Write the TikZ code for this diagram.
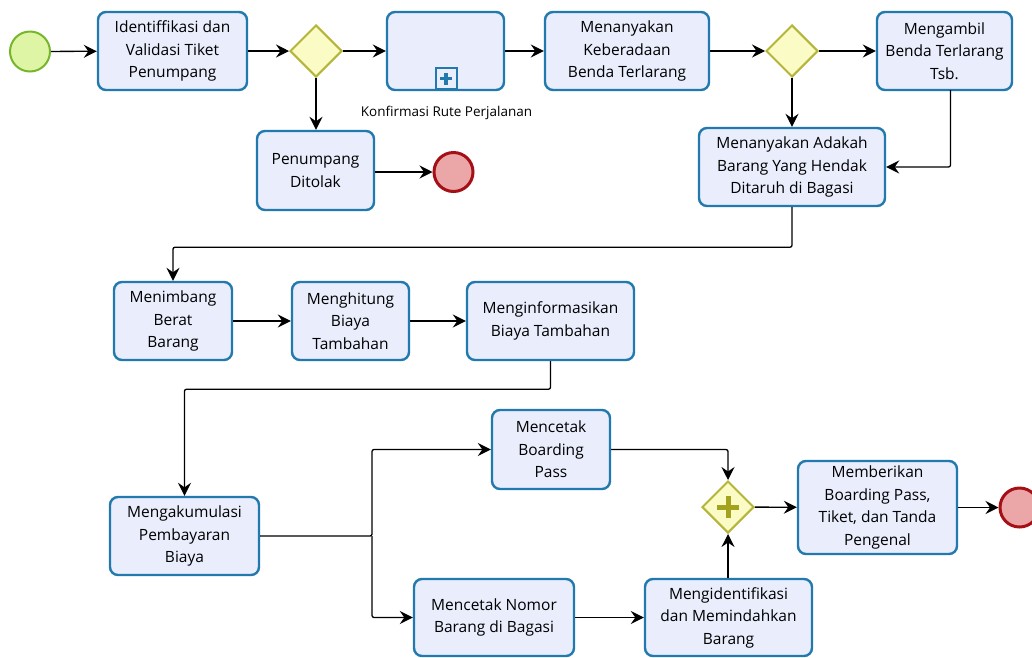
\documentclass[tikz,border=0pt]{standalone}
\usepackage{fontspec}
\setmainfont{Open Sans}
\usetikzlibrary{arrows.meta,shapes.geometric}
\definecolor{taskfill}{HTML}{E9EDFC}
\definecolor{taskline}{HTML}{2179AD}
\definecolor{gatefill}{HTML}{FBFBC6}
\definecolor{gateline}{HTML}{B5B53A}
\definecolor{gatemark}{HTML}{A3A31E}
\definecolor{startfill}{HTML}{DFF5A6}
\definecolor{startline}{HTML}{77B62A}
\definecolor{endfill}{HTML}{EBA6A7}
\definecolor{endline}{HTML}{A50F16}
\begin{document}
\begin{tikzpicture}[x=1pt,y=-1pt,
  task/.style={draw=taskline, fill=taskfill, line width=2.4pt, rounded corners=8pt,
    align=center, inner sep=0pt, font=\fontsize{15.5}{22.5}\selectfont},
  gate/.style={diamond, draw=gateline, fill=gatefill, line width=2pt,
    minimum width=52pt, minimum height=52pt, inner sep=0pt},
  startev/.style={circle, draw=startline, fill=startfill, line width=2pt,
    minimum size=40pt, inner sep=0pt},
  endev/.style={circle, draw=endline, fill=endfill, line width=3pt,
    minimum size=39pt, inner sep=0pt},
  flow/.style={draw=black, line width=1.3pt, rounded corners=2pt,
    -{Stealth[length=13pt,width=13pt,inset=4.5pt]}},
  caption/.style={font=\fontsize{13.5}{15}\selectfont, inner sep=0pt}
]
\useasboundingbox (0,0) rectangle (1032,657);
\fill[white] (0,0) rectangle (1032,657);

% top row
\node[startev] (start) at (30,51.5) {};
\node[task, minimum width=149pt, minimum height=78pt] (t1) at (172.5,51)
  {Identiffikasi dan\\Validasi Tiket\\Penumpang};
\node[gate] (g1) at (316,51) {};
\node[task, minimum width=117pt, minimum height=78pt] (sub) at (445.5,51) {};
\node[draw=taskline, fill=taskfill, line width=2pt, minimum size=21pt, inner sep=0pt]
  (submark) at (446,78.5) {};
\draw[taskline, line width=3.2pt] ([yshift=-6pt]submark.center) -- ([yshift=6pt]submark.center)
  ([xshift=-6pt]submark.center) -- ([xshift=6pt]submark.center);
\node[caption] (subcap) at (446.5,113) {Konfirmasi Rute Perjalanan};
\node[task, minimum width=164pt, minimum height=78pt] (t3) at (627,51)
  {Menanyakan\\Keberadaan\\Benda Terlarang};
\node[gate] (g2) at (792,51) {};
\node[task, minimum width=135pt, minimum height=78pt] (t4) at (944.5,51)
  {Mengambil\\Benda Terlarang\\Tsb.};

% rejection branch
\node[task, minimum width=117pt, minimum height=79pt] (rej) at (315.5,170.5)
  {Penumpang\\Ditolak};
\node[endev] (end1) at (453.5,172) {};

\node[task, minimum width=186pt, minimum height=78pt] (t5) at (792,167)
  {Menanyakan Adakah\\Barang Yang Hendak\\Ditaruh di Bagasi};

% second row
\node[task, minimum width=118pt, minimum height=78pt] (w1) at (173,321)
  {Menimbang\\Berat\\Barang};
\node[task, minimum width=117pt, minimum height=78pt] (w2) at (350.5,321)
  {Menghitung\\Biaya\\Tambahan};
\node[task, minimum width=167pt, minimum height=78pt] (w3) at (550.5,321)
  {Menginformasikan\\Biaya Tambahan};

% third row
\node[task, minimum width=149pt, minimum height=78pt] (acc) at (184.5,536)
  {Mengakumulasi\\Pembayaran\\Biaya};
\coordinate (fork) at (372,536);
\node[task, minimum width=118pt, minimum height=79pt] (pb) at (551,449.5)
  {Mencetak\\Boarding\\Pass};
\node[task, minimum width=160pt, minimum height=77pt] (pn) at (494,617.5)
  {Mencetak Nomor\\Barang di Bagasi};
\node[task, minimum width=167pt, minimum height=77pt] (mi) at (728.5,617.5)
  {Mengidentifikasi\\dan Memindahkan\\Barang};
\node[gate] (g3) at (728,507) {};
\draw[gatemark, line width=5pt] ([yshift=-11pt]g3.center) -- ([yshift=11pt]g3.center)
  ([xshift=-11pt]g3.center) -- ([xshift=11pt]g3.center);
\node[task, minimum width=159pt, minimum height=93pt] (give) at (877.5,507.5)
  {Memberikan\\Boarding Pass,\\Tiket, dan Tanda\\Pengenal};
\node[endev] (end2) at (1019.5,507.5) {};

% sequence flows
\coordinate (t4out) at (950.5,90);
\draw[flow] (start) -- (t1);
\draw[flow] (t1) -- (g1);
\draw[flow] (g1) -- (sub);
\draw[flow] (g1.south) -- (g1.south |- rej.north);
\draw[flow] (rej.east |- end1) -- (end1);
\draw[flow] (sub) -- (t3);
\draw[flow] (t3) -- (g2);
\draw[flow] (g2) -- (t4);
\draw[flow] (g2.south) -- (g2.south |- t5.north);
\draw[flow] (t4out) |- (t5.east);
\draw[flow] (t5.south) -- ++(0,40) -| (w1.north);
\draw[flow] (w1) -- (w2);
\draw[flow] (w2) -- (w3);
\draw[flow] (w3.south) -- ++(0,28) -| (acc.north);
\draw[flow] (acc.east) -- (fork) |- (pb.west);
\draw[flow] (fork) |- (pn.west);
\draw[flow] (pn) -- (mi);
\draw[flow] (pb.east) -| (g3.north);
\draw[flow] (mi.north -| g3.south) -- (g3.south);
\draw[flow] (g3) -- (give);
\draw[flow] (give) -- (end2);
\end{tikzpicture}
\end{document}
